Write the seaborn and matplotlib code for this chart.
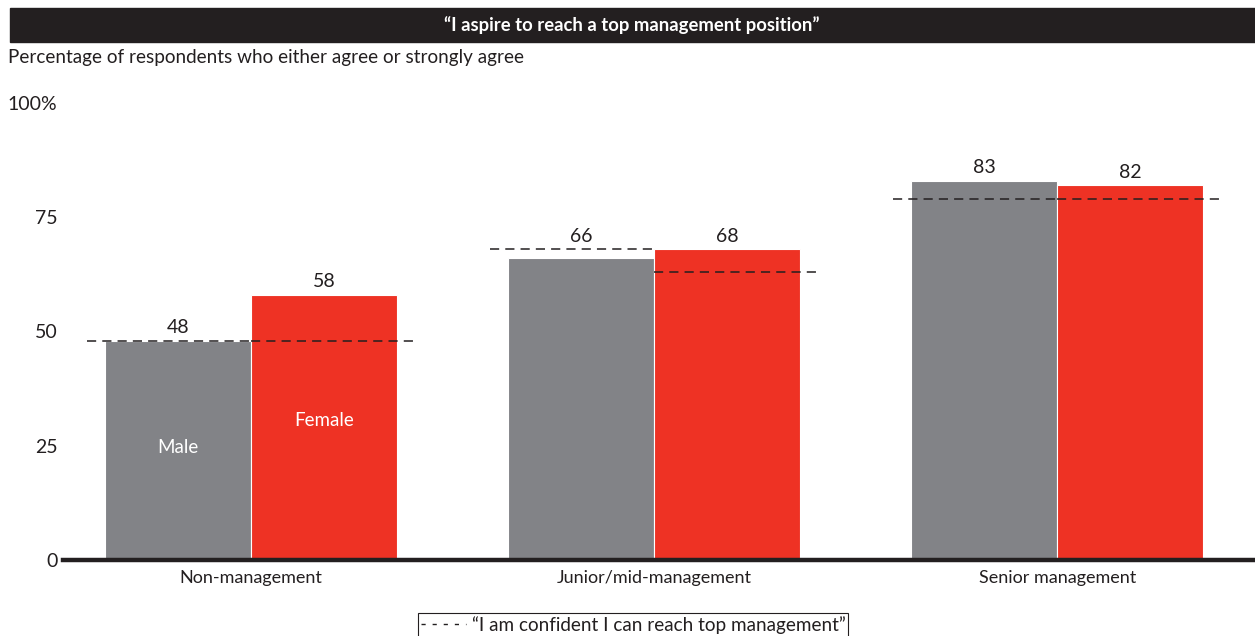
import matplotlib
matplotlib.use("Agg")
import matplotlib.pyplot as plt
import seaborn as sns
import pandas as pd
from matplotlib.lines import Line2D
from matplotlib.patches import Rectangle

# Survey results, % agreeing or strongly agreeing
levels = ["Non-management", "Junior/mid-management", "Senior management"]
genders = ["Male", "Female"]
aspire_male = [48, 66, 83]
aspire_female = [58, 68, 82]
confident_male = [48, 68, 79]
confident_female = [48, 63, 79]
y_ticks = [0, 25, 50, 75, 100]
y_tick_labels = ["0", "25", "50", "75", "100%"]

GRAY = "#828387"
RED = "#EE3224"
INK = "#231F20"

df = pd.DataFrame({
    "level": levels * 2,
    "gender": ["Male"] * len(levels) + ["Female"] * len(levels),
    "aspire": aspire_male + aspire_female,
})

sns.set_theme(style="white")
plt.rcParams["font.family"] = ["Lato", "DejaVu Sans"]
plt.rcParams["text.color"] = INK

W, H = 1255, 636
fig = plt.figure(figsize=(W / 100, H / 100), dpi=100)
ax = fig.add_axes([63 / W, (H - 560) / H, 1 - 63 / W, (560 - 103) / H])

sns.barplot(data=df, x="level", y="aspire", hue="gender", order=levels,
            hue_order=genders, palette=[GRAY, RED], width=0.725,
            saturation=1, edgecolor="white", linewidth=0.8,
            errorbar=None, legend=False, ax=ax)

ax.set_xlim(-0.467, 2.491)
ax.set_ylim(0, 100)

# Dashed "confident" markers and value labels per bar
ext = 0.045
for i, (cont, vals, conf) in enumerate(zip(ax.containers,
                                           [aspire_male, aspire_female],
                                           [confident_male, confident_female])):
    for patch, v, c in zip(cont.patches, vals, conf):
        x0 = patch.get_x()
        x1 = x0 + patch.get_width()
        if i == 0:
            x0 -= ext
        else:
            x1 += ext
        ax.hlines(c, x0, x1, colors=INK, linestyles=(0, (6, 4)),
                  linewidth=1.1, zorder=4)
        ax.annotate(f"{v}", (patch.get_x() + patch.get_width() / 2, max(v, c)),
                    xytext=(0, 3.2), textcoords="offset points",
                    ha="center", va="bottom", fontsize=14, color=INK)

# Series names inside the first pair of bars
m0 = ax.containers[0].patches[0]
f0 = ax.containers[1].patches[0]
ax.text(m0.get_x() + m0.get_width() / 2, 24.7, "Male", color="white",
        ha="center", va="center", fontsize=13.5)
ax.text(f0.get_x() + f0.get_width() / 2, 30.6, "Female", color="white",
        ha="center", va="center", fontsize=13.5)

ax.set_yticks(y_ticks, y_tick_labels)
ax.tick_params(axis="y", length=0, pad=4, labelsize=14, labelcolor=INK)
ax.tick_params(axis="x", length=0, pad=7, labelsize=13, labelcolor=INK)
ax.set_xlabel("")
ax.set_ylabel("")
for s in ["left", "top", "right"]:
    ax.spines[s].set_visible(False)
ax.spines["bottom"].set_linewidth(3.2)
ax.spines["bottom"].set_color(INK)
ax.spines["bottom"].set_zorder(5)

# Title band and subtitle
fig.patches.append(Rectangle((10 / W, (H - 42) / H), 1 - 10 / W, 34 / H,
                             transform=fig.transFigure, color=INK, zorder=0))
fig.text(632 / W, (H - 25) / H, "\u201cI aspire to reach a top management position\u201d",
         color="white", fontweight="bold", ha="center", va="center", fontsize=13.3)
fig.text(8 / W, (H - 58) / H, "Percentage of respondents who either agree or strongly agree",
         ha="left", va="center", fontsize=13.6, color=INK)

leg = fig.legend(handles=[Line2D([0], [0], color=INK, linestyle=(0, (3, 5)), lw=1)],
                 labels=["\u201cI am confident I can reach top management\u201d"],
                 loc="upper center", bbox_to_anchor=(633 / W, (H - 613) / H),
                 borderaxespad=0, frameon=True, fancybox=False, edgecolor=INK,
                 framealpha=1, borderpad=0.15, handlelength=2.4,
                 handletextpad=0.3, fontsize=13.6)
leg.get_frame().set_linewidth(0.8)

fig.savefig("out.png", dpi=100)
